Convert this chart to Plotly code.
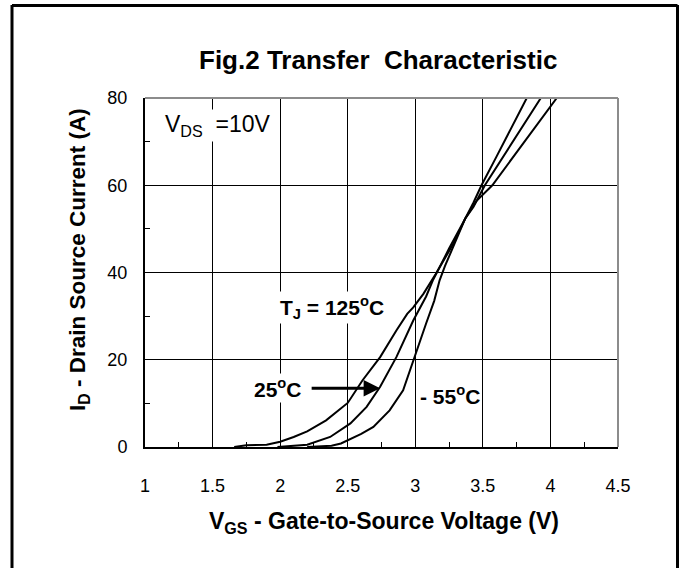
import plotly.graph_objects as go

# ---- data ----
vgs_125 = [1.66, 1.75, 1.9, 2.0, 2.1, 2.2, 2.34, 2.5, 2.61, 2.74, 2.86, 2.94, 2.985, 3.06, 3.15, 3.2, 3.28, 3.37, 3.45, 3.57, 3.7, 3.85, 4.047]
id_125 = [0, 0.4, 0.5, 1.2, 2.3, 3.6, 6.1, 10.1, 15.3, 20.6, 26.7, 30.5, 32, 35.1, 39.6, 42.3, 46.5, 52.4, 56.3, 60, 65.5, 71.7, 80]

vgs_25 = [1.98, 2.1, 2.2, 2.37, 2.52, 2.64, 2.74, 2.86, 2.985, 3.08, 3.13, 3.18, 3.25, 3.37, 3.43, 3.515, 3.65, 3.929]
id_25 = [0, 0.3, 0.5, 2.3, 5.4, 9.2, 13.8, 20.6, 29, 34.5, 38.2, 41.2, 45.5, 52.4, 55, 60, 66.5, 80]

vgs_m55 = [2.2, 2.38, 2.45, 2.52, 2.6, 2.69, 2.81, 2.91, 2.985, 3.08, 3.14, 3.18, 3.22, 3.28, 3.37, 3.43, 3.49, 3.6, 3.825]
id_m55 = [0, 0.3, 0.8, 1.8, 3.0, 4.6, 8.4, 13, 19.9, 28.3, 33.5, 38.2, 41.5, 46, 52.4, 56, 60, 66.5, 80]

x_ticks = [1, 1.5, 2, 2.5, 3, 3.5, 4, 4.5]
x_tick_labels = ["1", "1.5", "2", "2.5", "3", "3.5", "4", "4.5"]
y_ticks = [0, 20, 40, 60, 80]
y_tick_labels = ["0", "20", "40", "60", "80"]

# ---- layout geometry ----
W, H = 684, 568
L, R, T, B = 145, 66, 98, 121
PW, PH = W - L - R, H - T - B
FONT = "Liberation Sans, Arial, sans-serif"


def xp(px):
    return (px - L) / PW


def yp(py):
    return (H - B - py) / PH


fig = go.Figure()
for xs, ys, name in [(vgs_125, id_125, "125°C"), (vgs_25, id_25, "25°C"), (vgs_m55, id_m55, "-55°C")]:
    fig.add_trace(go.Scatter(x=xs, y=ys, mode="lines", name=name,
                             line=dict(color="black", width=2), showlegend=False,
                             hoverinfo="skip"))

fig.update_layout(
    width=W, height=H,
    margin=dict(l=L, r=R, t=T, b=B, pad=0),
    paper_bgcolor="white", plot_bgcolor="white",
    font=dict(family=FONT, color="black", size=18),
    xaxis=dict(range=[1, 4.5], tickvals=x_ticks, ticktext=x_tick_labels,
               showgrid=True, gridcolor="black", gridwidth=1,
               showline=True, linecolor="black", linewidth=2,
               ticks="inside", ticklen=5, tickcolor="black",
               minor=dict(ticks="inside", dtick=0.25, ticklen=5, tickcolor="black", showgrid=False),
               ticklabelstandoff=21, zeroline=False,
               tickfont=dict(size=18, family=FONT)),
    yaxis=dict(range=[0, 80], tickvals=y_ticks, ticktext=y_tick_labels,
               showgrid=True, gridcolor="black", gridwidth=1,
               showline=True, linecolor="black", linewidth=2,
               ticks="inside", ticklen=5, tickcolor="black",
               minor=dict(ticks="inside", dtick=10, ticklen=5, tickcolor="black", showgrid=False),
               ticklabelstandoff=12, zeroline=False,
               tickfont=dict(size=18, family=FONT)),
)

shapes = [
    # plot frame top and right (grey)
    dict(type="line", xref="paper", yref="paper", x0=0, x1=1, y0=1, y1=1,
         line=dict(color="#8c8c8c", width=2)),
    dict(type="line", xref="paper", yref="paper", x0=1, x1=1, y0=0, y1=1,
         line=dict(color="#8c8c8c", width=2)),
    # outer border (left, top, right)
    dict(type="line", xref="paper", yref="paper", x0=xp(12), x1=xp(12), y0=yp(5), y1=yp(572),
         line=dict(color="black", width=3)),
    dict(type="line", xref="paper", yref="paper", x0=xp(12), x1=xp(677.5), y0=yp(5.5), y1=yp(5.5),
         line=dict(color="black", width=3)),
    dict(type="line", xref="paper", yref="paper", x0=xp(677.5), x1=xp(677.5), y0=yp(5), y1=yp(572),
         line=dict(color="black", width=3)),
]
fig.update_layout(shapes=shapes)

ann = [
    dict(text="<b>Fig.2 Transfer&nbsp; Characteristic</b>", xref="paper", yref="paper",
         x=xp(378), y=yp(60), xanchor="center", yanchor="middle", showarrow=False,
         font=dict(size=26, family=FONT)),
    dict(text="<b>V<sub>GS</sub> - Gate-to-Source Voltage (V)</b>", xref="paper", yref="paper",
         x=xp(384), y=yp(522), xanchor="center", yanchor="middle", showarrow=False,
         font=dict(size=23, family=FONT)),
    dict(text="<b>I<sub>D</sub> - Drain Source Current (A)</b>", xref="paper", yref="paper",
         x=xp(79), y=yp(260), xanchor="center", yanchor="middle", showarrow=False,
         textangle=-90, font=dict(size=22.5, family=FONT)),
    dict(text="V<sub>DS</sub>&nbsp; =10V", xref="x", yref="y", x=1.13, y=73.6,
         xanchor="left", yanchor="middle", showarrow=False, bgcolor="white",
         font=dict(size=23, family=FONT)),
    dict(text="<b>T<sub>J</sub> = 125<sup>o</sup>C</b>", xref="x", yref="y", x=2.384, y=32.0,
         xanchor="center", yanchor="middle", showarrow=False, bgcolor="white",
         font=dict(size=21, family=FONT)),
    dict(text="<b>25<sup>o</sup>C</b>", xref="x", yref="y", x=1.984, y=13.5,
         xanchor="center", yanchor="middle", showarrow=False, bgcolor="white",
         font=dict(size=21, family=FONT)),
    dict(text="<b>- 55<sup>o</sup>C</b>", xref="x", yref="y", x=3.257, y=11.9,
         xanchor="center", yanchor="middle", showarrow=False, bgcolor="white",
         font=dict(size=21, family=FONT)),
    # arrow pointing at the 25 C curve
    dict(text="", xref="x", yref="y", x=2.74, y=13.45, ax=-70, ay=0,
         showarrow=True, arrowhead=2, arrowsize=1.1, arrowwidth=3, arrowcolor="black"),
]
fig.update_layout(annotations=ann)

fig.write_html("out.html", config={"displayModeBar": False},
               post_script="document.body.style.margin='0';")
